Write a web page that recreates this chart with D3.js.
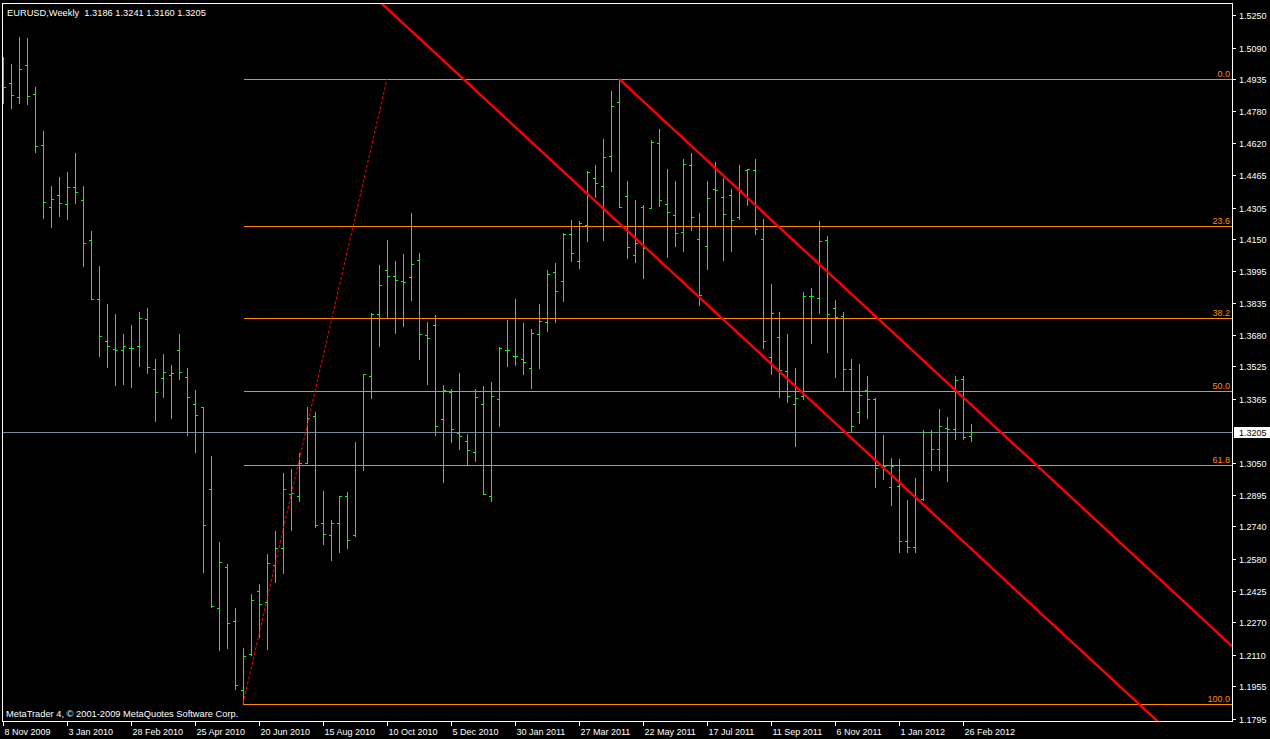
<!DOCTYPE html>
<html><head><meta charset="utf-8">
<script src="https://cdn.jsdelivr.net/npm/d3@7"></script>
<style>html,body{margin:0;padding:0;background:#000;overflow:hidden}</style>
</head><body>
<svg id="c" width="1270" height="739"></svg>
<script>
// ---------------- data ----------------
const title = "EURUSD,Weekly  1.3186 1.3241 1.3160 1.3205";
const footer = "MetaTrader 4, \u00A9 2001-2009 MetaQuotes Software Corp.";
const startDate = "2009-11-08"; // first weekly bar
const opens = [1.4960,1.4915,1.4846,1.5003,1.4861,1.4611,1.4306,1.4365,1.4321,1.4404,
1.4341,1.4144,1.3855,1.3649,1.3609,1.3604,1.3614,1.3624,1.3756,1.3511,
1.3467,1.3481,1.3604,1.3472,1.3339,1.3325,1.2922,1.2338,1.2539,1.2275,
1.1936,1.2113,1.2422,1.2368,1.2549,1.2633,1.2898,1.2888,1.3050,1.3281,
1.2755,1.2696,1.2755,1.2888,1.2696,1.3040,1.3477,1.3781,1.3997,1.3968,
1.3943,1.3963,1.4046,1.3678,1.3727,1.3266,1.3398,1.3197,1.3158,1.3104,
1.3339,1.2888,1.3364,1.3604,1.3575,1.3560,1.3516,1.3683,1.3742,1.3987,
1.3943,1.4174,1.4041,1.4220,1.4449,1.4409,1.4557,1.4822,1.4360,1.4071,
1.4306,1.4303,1.4620,1.4321,1.4267,1.4183,1.4514,1.4149,1.4116,1.4395,
1.4355,1.4365,1.4257,1.4491,1.4488,1.4149,1.3570,1.3668,1.3501,1.3339,
1.3379,1.3869,1.3860,1.4144,1.3811,1.3771,1.3514,1.3300,1.3408,1.3364,
1.3038,1.2935,1.2940,1.2670,1.2641,1.2876,1.3203,1.3122,1.3222,1.3217,
1.3465,1.3186];
const highs = [1.5045,1.5010,1.5143,1.5137,1.4897,1.4681,1.4411,1.4455,1.4479,1.4573,
1.4411,1.4190,1.4017,1.3832,1.3783,1.3684,1.3729,1.3792,1.3812,1.3562,
1.3586,1.3532,1.3684,1.3518,1.3410,1.3325,1.3086,1.2664,1.2556,1.2340,
1.2143,1.2408,1.2458,1.2605,1.2718,1.3002,1.3022,1.3100,1.3326,1.3302,
1.2914,1.2772,1.2889,1.2909,1.3154,1.3487,1.3786,1.4023,1.4146,1.4043,
1.4077,1.4278,1.4082,1.3743,1.3778,1.3434,1.3415,1.3493,1.3192,1.3415,
1.3429,1.3449,1.3621,1.3753,1.3856,1.3738,1.3709,1.3832,1.3999,1.4033,
1.4180,1.4244,1.4239,1.4484,1.4514,1.4641,1.4877,1.4936,1.4435,1.4342,
1.4318,1.4637,1.4691,1.4494,1.4435,1.4543,1.4573,1.4278,1.4435,1.4529,
1.4450,1.4396,1.4514,1.4494,1.4543,1.4249,1.3930,1.3792,1.3684,1.3519,
1.3891,1.3910,1.4239,1.4165,1.3851,1.3791,1.3562,1.3537,1.3478,1.3370,
1.3189,1.3076,1.3071,1.2870,1.2978,1.3213,1.3213,1.3316,1.3277,1.3478,
1.3478,1.3241];
const lows = [1.4817,1.4795,1.4820,1.4815,1.4579,1.4255,1.4211,1.4265,1.4250,1.4329,
1.4020,1.3855,1.3578,1.3524,1.3436,1.3441,1.3426,1.3529,1.3495,1.3259,
1.3377,1.3274,1.3465,1.3190,1.3107,1.2518,1.2343,1.2135,1.2145,1.1944,
1.1870,1.2108,1.2199,1.2140,1.2469,1.2513,1.2724,1.2866,1.3050,1.2739,
1.2655,1.2577,1.2616,1.2636,1.2693,1.3019,1.3372,1.3627,1.3768,1.3691,
1.3725,1.3853,1.3563,1.3441,1.3190,1.2960,1.3156,1.3122,1.3046,1.3063,
1.2898,1.2866,1.3234,1.3529,1.3534,1.3490,1.3421,1.3519,1.3701,1.3745,
1.3848,1.4044,1.4010,1.4142,1.4358,1.4147,1.4486,1.4309,1.4059,1.4039,
1.3961,1.4303,1.4313,1.4064,1.4118,1.4093,1.4195,1.3828,1.4005,1.4220,
1.4049,1.4093,1.4250,1.4319,1.4177,1.3617,1.3490,1.3377,1.3352,1.3136,
1.3367,1.3642,1.3789,1.3598,1.3475,1.3411,1.3205,1.3249,1.3274,1.2935,
1.2974,1.2847,1.2616,1.2616,1.2616,1.2871,1.3019,1.3019,1.2964,1.3171,
1.3171,1.3160];
const closes = [1.4896,1.4856,1.4984,1.4851,1.4606,1.4331,1.4346,1.4326,1.4404,1.4380,
1.4130,1.3855,1.3673,1.3624,1.3604,1.3624,1.3614,1.3761,1.3521,1.3398,
1.3496,1.3491,1.3496,1.3374,1.3285,1.2746,1.2348,1.2564,1.2265,1.1960,
1.2103,1.2378,1.2358,1.2559,1.2633,1.2922,1.2903,1.3050,1.3271,1.2746,
1.2701,1.2755,1.2888,1.2672,1.3040,1.3487,1.3781,1.3923,1.3968,1.3948,
1.3938,1.4027,1.3683,1.3663,1.3232,1.3408,1.3217,1.3182,1.3114,1.3374,
1.2898,1.3379,1.3614,1.3604,1.3575,1.3545,1.3688,1.3747,1.3977,1.3894,
1.4175,1.4081,1.4229,1.4478,1.4424,1.4552,1.4803,1.4309,1.4110,1.4131,
1.4107,1.4625,1.4341,1.4282,1.4179,1.4517,1.4259,1.3876,1.4350,1.4390,
1.4272,1.4242,1.4390,1.4493,1.4198,1.3649,1.3786,1.3508,1.3379,1.3369,
1.3869,1.3869,1.4139,1.3781,1.3766,1.3514,1.3232,1.3384,1.3365,1.3028,
1.3038,1.3038,1.2670,1.2641,1.2873,1.3203,1.3122,1.3232,1.3217,1.3457,
1.3177,1.3205];
const dateTickLabels = ["8 Nov 2009","3 Jan 2010","28 Feb 2010","25 Apr 2010","20 Jun 2010","15 Aug 2010",
"10 Oct 2010","5 Dec 2010","30 Jan 2011","27 Mar 2011","22 May 2011","17 Jul 2011",
"11 Sep 2011","6 Nov 2011","1 Jan 2012","26 Feb 2012"];
const dateTickBars = [0,8,16,24,32,40,48,56,64,72,80,88,96,104,112,120];
const priceTicks = [1.5250,1.5090,1.4935,1.4780,1.4620,1.4465,1.4305,1.4150,1.3995,1.3835,1.3680,
1.3525,1.3365,1.3050,1.2895,1.2740,1.2580,1.2425,1.2270,1.2110,1.1955,1.1795];
const bidPrice = 1.3205;
const fibLevels = [0.0, 23.6, 38.2, 50.0, 61.8, 100.0];
const fibHigh = 1.4936, fibLow = 1.1870, fibStartBar = 30;
const fibTrend = [[30, 1.1870], [48, 1.4936]];       // dotted fib trend line
const channelUpper = [[77, 1.4936], [121, 1.3338]];  // ray to the right
const channelLower = [[77, 1.4229], [121, 1.2631]];  // parallel line

// ---------------- layout ----------------
const W = 1270, H = 739;
const plot = {left: 2, top: 3, right: 1232, bottom: 721};
const FONT = "'Liberation Sans', Arial, sans-serif";
const GREEN = "#00ff00", ORANGE = "#ff8c00", RED = "#ff0000", BID = "#778899";

const svg = d3.select("#c").style("background", "#000").attr("shape-rendering", "crispEdges");
svg.append("rect").attr("width", W).attr("height", H).attr("fill", "#000");

const x = d3.scaleLinear().domain([0, 1]).range([3, 11]);       // 8 px per weekly bar
const y = d3.scaleLinear().domain([1.1795, 1.5250]).range([719, 15]);
const px = v => Math.round(v) + 0.5;

svg.append("defs").append("clipPath").attr("id", "clip")
  .append("rect").attr("x", plot.left + 1).attr("y", plot.top + 1)
  .attr("width", plot.right - plot.left - 1).attr("height", plot.bottom - plot.top - 1);
const g = svg.append("g").attr("clip-path", "url(#clip)");

// bid line
g.append("line").attr("x1", plot.left).attr("x2", plot.right)
  .attr("y1", px(y(bidPrice))).attr("y2", px(y(bidPrice)))
  .attr("stroke", BID).attr("stroke-width", 1);

// fib levels
const fibPrice = l => fibHigh - (fibHigh - fibLow) * l / 100;
const fg = g.append("g");
fibLevels.forEach(l => {
  const yy = px(y(fibPrice(l)));
  fg.append("line").attr("x1", px(x(fibStartBar))).attr("x2", plot.right)
    .attr("y1", yy).attr("y2", yy).attr("stroke", ORANGE).attr("stroke-width", 1);
  fg.append("text").attr("x", plot.right - 2).attr("y", yy - 3)
    .attr("text-anchor", "end").attr("fill", ORANGE)
    .style("font", `9px ${FONT}`).text(l.toFixed(1));
});

// bars
const bars = g.append("g").attr("stroke", GREEN).attr("stroke-width", 1);
opens.forEach((o, i) => {
  const cx = Math.round(x(i)) + 0.5;
  bars.append("line").attr("x1", cx).attr("x2", cx)
    .attr("y1", Math.round(y(highs[i]))).attr("y2", Math.round(y(lows[i])) + 1);
  const yo = px(y(o)), yc = px(y(closes[i]));
  bars.append("line").attr("x1", cx - 2.5).attr("x2", cx - 0.5).attr("y1", yo).attr("y2", yo);
  bars.append("line").attr("x1", cx + 0.5).attr("x2", cx + 2.5).attr("y1", yc).attr("y2", yc);
});

// fib dotted trend line
g.append("line")
  .attr("x1", x(fibTrend[0][0])).attr("y1", y(fibTrend[0][1]))
  .attr("x2", x(fibTrend[1][0])).attr("y2", y(fibTrend[1][1]))
  .attr("stroke", RED).attr("stroke-width", 1).attr("stroke-dasharray", "3,2")
  .attr("shape-rendering", "auto");

// channel lines
function extend(p, q, fromStart) {
  const slope = (q[1] - p[1]) / (q[0] - p[0]);
  const x0 = fromStart ? p[0] : x.invert(plot.left);
  const x1 = x.invert(plot.right);
  return [[x0, p[1] + slope * (x0 - p[0])], [x1, p[1] + slope * (x1 - p[0])]];
}
[[channelUpper, true], [channelLower, false]].forEach(([c, ray]) => {
  const s = extend(c[0], c[1], ray);
  g.append("line").attr("x1", x(s[0][0])).attr("y1", y(s[0][1]))
    .attr("x2", x(s[1][0])).attr("y2", y(s[1][1]))
    .attr("stroke", RED).attr("stroke-width", 2.4).attr("shape-rendering", "auto");
});

// frame
svg.append("rect").attr("x", plot.left + 0.5).attr("y", plot.top + 0.5)
  .attr("width", plot.right - plot.left).attr("height", plot.bottom - plot.top)
  .attr("fill", "none").attr("stroke", "#fff").attr("stroke-width", 1);

// price axis
const pa = svg.append("g");
priceTicks.forEach(p => {
  const yy = px(y(p));
  pa.append("line").attr("x1", plot.right + 1).attr("x2", plot.right + 4)
    .attr("y1", yy).attr("y2", yy).attr("stroke", "#fff");
  pa.append("text").attr("x", plot.right + 7).attr("y", yy + 3.5)
    .attr("fill", "#fff").style("font", `9px ${FONT}`).text(p.toFixed(4));
});
// bid label
const yb = px(y(bidPrice));
pa.append("rect").attr("x", plot.right + 2).attr("y", yb - 5.5).attr("width", 37).attr("height", 11).attr("fill", "#fff");
pa.append("text").attr("x", plot.right + 7).attr("y", yb + 3.5)
  .attr("fill", "#000").style("font", `9px ${FONT}`).text(bidPrice.toFixed(4));

// time axis
const ta = svg.append("g");
dateTickBars.forEach((b, k) => {
  const xx = px(x(b));
  ta.append("line").attr("x1", xx).attr("x2", xx).attr("y1", plot.bottom + 1).attr("y2", plot.bottom + 5)
    .attr("stroke", "#fff");
  ta.append("text").attr("x", xx + 1).attr("y", plot.bottom + 14)
    .attr("fill", "#fff").style("font", `9px ${FONT}`).text(dateTickLabels[k]);
});

// texts
svg.append("text").attr("x", 7).attr("y", 16).attr("fill", "#fff")
  .style("font", `9.3px ${FONT}`).attr("xml:space", "preserve").style("white-space", "pre").text(title);
svg.append("text").attr("x", 6).attr("y", 717).attr("fill", "#fff")
  .style("font", `9.3px ${FONT}`).text(footer);
</script>
</body></html>
